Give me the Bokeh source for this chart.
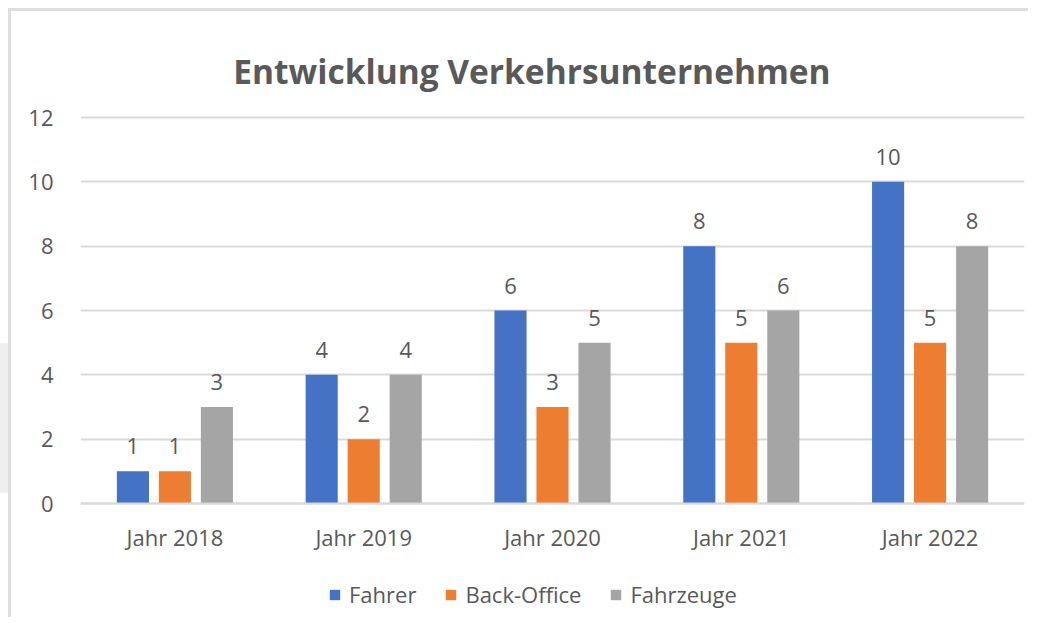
from bokeh.plotting import figure
from bokeh.models import ColumnDataSource, Legend, LegendItem, Range1d, FactorRange, FixedTicker, Label
from bokeh.transform import dodge
from bokeh.core.properties import value
from bokeh.embed import file_html
from bokeh.resources import INLINE

categories = ["Jahr 2018", "Jahr 2019", "Jahr 2020", "Jahr 2021", "Jahr 2022"]
fahrer = [1, 4, 6, 8, 10]
back_office = [1, 2, 3, 5, 5]
fahrzeuge = [3, 4, 5, 6, 8]
series_names = ["Fahrer", "Back-Office", "Fahrzeuge"]
colors = ["#4472C4", "#ED7D31", "#A5A5A5"]
y_ticks = [0, 2, 4, 6, 8, 10, 12]
title_text = "Entwicklung Verkehrsunternehmen"

TXT = "#595959"
FONT = "Open Sans"

# layout (pixels): plot frame spans the area used by bars, title and legend
W, H = 1028, 617
LEFT, RIGHT, TOP, BOTTOM = 80, 4, 20, 0
ZERO_PX, TWELVE_PX = 503, 117           # where value 0 and value 12 sit
px_per_unit = (ZERO_PX - TWELVE_PX) / 12.0
y_lo = -((H - BOTTOM) - ZERO_PX) / px_per_unit
y_hi = 12 + (TWELVE_PX - TOP) / px_per_unit

src = ColumnDataSource(dict(
    cat=categories,
    fahrer=fahrer, back=back_office, fz=fahrzeuge,
    fahrer_l=[str(v) for v in fahrer],
    back_l=[str(v) for v in back_office],
    fz_l=[str(v) for v in fahrzeuge],
))

page_bg = ("linear-gradient(#dedede,#dedede) 8px 8px / 3px calc(100% - 8px) no-repeat, "
           "linear-gradient(#dedede,#dedede) 8px 8px / calc(100% - 8px) 3px no-repeat, "
           "linear-gradient(#efefef,#efefef) 0px 343px / 8px 150px no-repeat, "
           "#ffffff")

p = figure(x_range=FactorRange(*categories, range_padding=0),
           y_range=Range1d(y_lo, y_hi),
           width=W, height=H,
           output_backend="svg", toolbar_location=None,
           min_border_left=LEFT, min_border_right=RIGHT,
           min_border_top=TOP, min_border_bottom=BOTTOM,
           styles={"background": page_bg})
p.outline_line_color = None
p.background_fill_color = None
p.border_fill_color = None

offsets = [-0.2225, 0.0, 0.2225]
fields = ["fahrer", "back", "fz"]
renderers = []
for off, f, c in zip(offsets, fields, colors):
    r = p.vbar(x=dodge("cat", off, range=p.x_range), top=f, width=0.17,
               source=src, fill_color=c, line_color=None)
    renderers.append(r)
    p.text(x=dodge("cat", off, range=p.x_range), y=f, text=f + "_l", source=src,
           text_align="center", text_baseline="alphabetic", y_offset=-25,
           text_font=value(FONT), text_font_size="22px", text_color=TXT)

# axes
p.yaxis.ticker = FixedTicker(ticks=y_ticks)
p.yaxis.axis_line_color = None
p.yaxis.major_tick_line_color = None
p.yaxis.minor_tick_line_color = None
p.yaxis.major_tick_out = 0
p.yaxis.major_label_standoff = 27
p.yaxis.major_label_text_font = FONT
p.yaxis.major_label_text_font_size = "22px"
p.yaxis.major_label_text_color = TXT

p.xaxis.fixed_location = 0
p.xaxis.axis_line_color = "#d9d9d9"
p.xaxis.axis_line_width = 2
p.xaxis.major_tick_line_color = None
p.xaxis.major_tick_out = 0
p.xaxis.major_label_standoff = 18
p.xaxis.major_label_text_font = FONT
p.xaxis.major_label_text_font_size = "22px"
p.xaxis.major_label_text_color = TXT

p.xgrid.grid_line_color = None
p.ygrid.ticker = FixedTicker(ticks=y_ticks)
p.ygrid.grid_line_color = "#d9d9d9"
p.ygrid.grid_line_width = 2

# title
p.add_layout(Label(x=2.391, y=12 + (TWELVE_PX - 70) / px_per_unit, text=title_text,
                   text_align="center", text_baseline="alphabetic",
                   text_font=FONT, text_font_style="bold",
                   text_font_size="33.5px", text_color=TXT))

legend = Legend(items=[LegendItem(label=n, renderers=[r]) for n, r in zip(series_names, renderers)],
                orientation="horizontal", location=(248, 8),
                padding=0, margin=0, spacing=28,
                glyph_width=13, glyph_height=13, label_standoff=8,
                label_text_font=FONT, label_text_font_size="22px", label_text_color=TXT,
                border_line_color=None, background_fill_alpha=0)
p.add_layout(legend, "center")

open("out.html", "w").write(file_html(p, INLINE))
